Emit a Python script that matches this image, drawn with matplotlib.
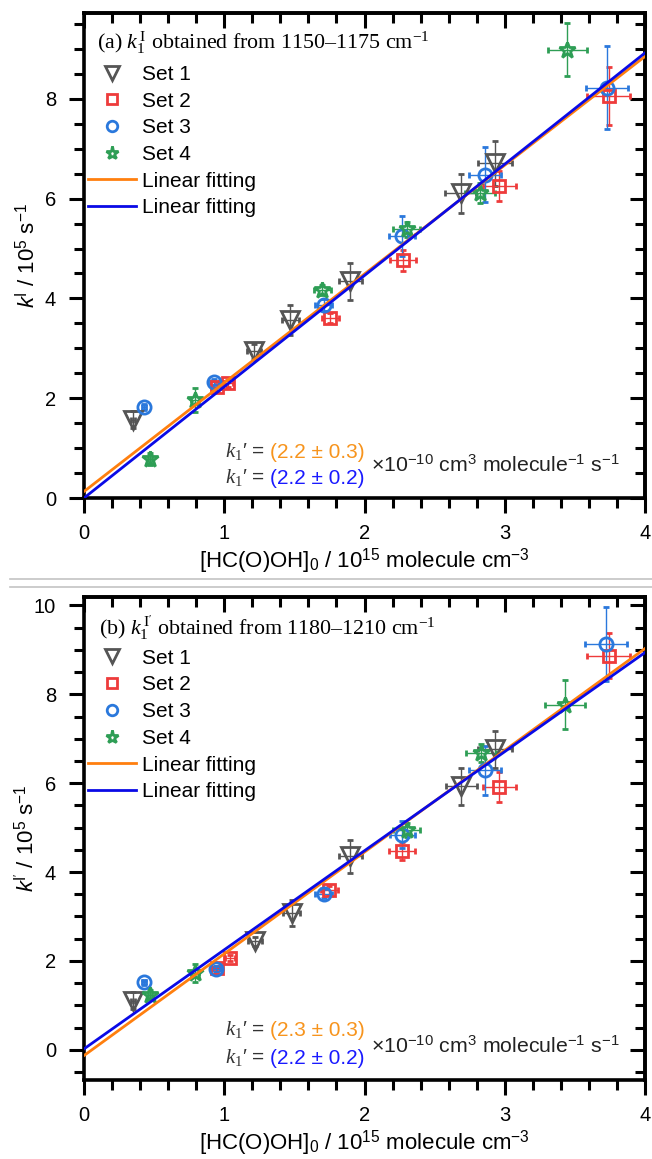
import numpy as np
import matplotlib.pyplot as plt
from matplotlib.ticker import MultipleLocator
from matplotlib.lines import Line2D

plt.rcParams['font.family'] = ['Liberation Sans', 'DejaVu Sans']
plt.rcParams['mathtext.fontset'] = 'custom'
plt.rcParams['mathtext.rm'] = 'Liberation Sans'
plt.rcParams['mathtext.it'] = 'Liberation Serif:italic'
plt.rcParams['mathtext.sf'] = 'Liberation Sans:italic'
plt.rcParams['mathtext.bf'] = 'Liberation Serif'

# ---- panel (a) data ----
a_x1 = [0.35, 1.21, 1.47, 1.90, 2.685, 2.93]
a_y1 = [1.57, 2.94, 3.57, 4.34, 6.11, 6.71]
a_xe1 = [0.015, 0.05, 0.06, 0.08, 0.11, 0.12]
a_ye1 = [0.17, 0.15, 0.30, 0.37, 0.39, 0.45]

a_x2 = [0.95, 1.03, 1.755, 2.274, 2.96, 3.74]
a_y2 = [2.22, 2.30, 3.61, 4.76, 6.26, 8.05]
a_xe2 = [0.03, 0.035, 0.06, 0.093, 0.117, 0.15]
a_ye2 = [0.07, 0.07, 0.10, 0.22, 0.30, 0.58]

a_x3 = [0.43, 0.93, 1.71, 2.267, 2.86, 3.73]
a_y3 = [1.82, 2.32, 3.87, 5.26, 6.48, 8.22]
a_xe3 = [0.015, 0.03, 0.06, 0.09, 0.115, 0.15]
a_ye3 = [0.06, 0.06, 0.12, 0.40, 0.55, 0.83]

a_x4 = [0.47, 0.79, 1.70, 2.30, 2.826, 3.447]
a_y4 = [0.79, 1.97, 4.17, 5.39, 6.12, 8.98]
a_xe4 = [0.016, 0.03, 0.06, 0.095, 0.107, 0.14]
a_ye4 = [0.12, 0.24, 0.10, 0.15, 0.20, 0.53]

a_fit_orange = (2.18, 0.13)   # slope, intercept
a_fit_blue = (2.23, 0.0)

# ---- panel (b) data ----
b_x1 = [0.35, 1.22, 1.48, 1.90, 2.69, 2.93]
b_y1 = [1.10, 2.44, 3.08, 4.35, 5.93, 6.76]
b_xe1 = [0.015, 0.05, 0.06, 0.08, 0.11, 0.12]
b_ye1 = [0.19, 0.10, 0.30, 0.38, 0.41, 0.41]

b_x2 = [0.95, 1.04, 1.75, 2.27, 2.96, 3.74]
b_y2 = [1.83, 2.06, 3.59, 4.47, 5.92, 8.87]
b_xe2 = [0.03, 0.035, 0.06, 0.093, 0.117, 0.15]
b_ye2 = [0.06, 0.07, 0.10, 0.20, 0.34, 0.50]

b_x3 = [0.43, 0.94, 1.71, 2.27, 2.86, 3.72]
b_y3 = [1.52, 1.82, 3.51, 4.84, 6.29, 9.14]
b_xe3 = [0.015, 0.03, 0.06, 0.09, 0.115, 0.15]
b_ye3 = [0.06, 0.06, 0.10, 0.30, 0.55, 0.83]

b_x4 = [0.47, 0.79, 2.30, 2.83, 3.43]
b_y4 = [1.24, 1.73, 4.95, 6.68, 7.77]
b_xe4 = [0.016, 0.03, 0.095, 0.107, 0.14]
b_ye4 = [0.10, 0.20, 0.15, 0.20, 0.56]

b_fit_orange = (2.29, -0.13)
b_fit_blue = (2.23, 0.02)

set_labels = ['Set 1', 'Set 2', 'Set 3', 'Set 4']
markers = ['v', 's', 'o', '*']
colors = ['#555555', '#ee3b3b', '#2a78dc', '#2e9e55']
msizes = [12.5, 9, 9.5, 12]
orange = '#ff7f0e'
blue = '#0a0ae6'

W, H = 652, 1159


def fx(px):
    return px / W


def fy(py):
    return 1 - py / H


def style_axes(ax, ymin, ymax, ymajor):
    ax.set_xlim(0, 4)
    ax.set_ylim(ymin, ymax)
    ax.xaxis.set_major_locator(MultipleLocator(1))
    ax.xaxis.set_minor_locator(MultipleLocator(0.2))
    ax.yaxis.set_major_locator(MultipleLocator(ymajor))
    ax.yaxis.set_minor_locator(MultipleLocator(0.5))
    for s in ax.spines.values():
        s.set_linewidth(2.6)
    ax.tick_params(which='both', direction='out', width=2.2, labelsize=14.5,
                   colors='black')
    ax.tick_params(axis='y', pad=9)
    ax.tick_params(axis='x', pad=8)
    ax.tick_params(which='major', length=11)
    ax.tick_params(which='minor', length=7.5)
    top = ax.secondary_xaxis('top')
    top.xaxis.set_major_locator(MultipleLocator(1))
    top.xaxis.set_minor_locator(MultipleLocator(0.2))
    top.tick_params(which='both', direction='in', width=2.2, labeltop=False)
    top.tick_params(which='major', length=11)
    top.tick_params(which='minor', length=7.5)
    top.spines['top'].set_linewidth(2.6)
    right = ax.secondary_yaxis('right')
    right.yaxis.set_major_locator(MultipleLocator(ymajor))
    right.yaxis.set_minor_locator(MultipleLocator(0.5))
    right.tick_params(which='both', direction='in', width=2.2, labelright=False)
    right.tick_params(which='major', length=11)
    right.tick_params(which='minor', length=7.5)
    right.spines['right'].set_linewidth(2.6)


def draw_panel(ax, sets, fit_o, fit_b):
    for (x, y, xe, ye), m, c, ms in zip(sets, markers, colors, msizes):
        ax.errorbar(x, y, xerr=xe, yerr=ye, fmt=m, ms=ms, mfc='none', mec=c,
                    mew=2.0, ecolor=c, elinewidth=1.0, capsize=2.5,
                    capthick=1.0, zorder=3)
    xs = np.array([0, 4])
    ax.plot(xs, fit_o[0] * xs + fit_o[1], color=orange, lw=2.0, zorder=4)
    ax.plot(xs, fit_b[0] * xs + fit_b[1], color=blue, lw=2.0, zorder=5)
    handles = [Line2D([], [], ls='none', marker=m, ms=ms * 0.8, mfc='none',
                      mec=c, mew=2.0)
               for m, c, ms in zip(markers, colors, msizes)]
    handles += [Line2D([], [], color=orange, lw=2.0),
                Line2D([], [], color=blue, lw=2.0)]
    ax.legend(handles, set_labels + ['Linear fitting', 'Linear fitting'],
              loc='upper left', bbox_to_anchor=(0.007, 0.893), frameon=False,
              borderaxespad=0, borderpad=0, handlelength=2.3,
              handletextpad=0.3, labelspacing=0.37, fontsize=15)


fig = plt.figure(figsize=(W / 100, H / 100), dpi=100)
ax1 = fig.add_axes([fx(84), fy(498), (645 - 84) / W, 485 / H])
ax2 = fig.add_axes([fx(84), fy(1080), (645 - 84) / W, 483 / H])

style_axes(ax1, 0, 9.72, 2)
style_axes(ax2, -0.68, 10.19, 2)

draw_panel(ax1, [(a_x1, a_y1, a_xe1, a_ye1), (a_x2, a_y2, a_xe2, a_ye2),
                 (a_x3, a_y3, a_xe3, a_ye3), (a_x4, a_y4, a_xe4, a_ye4)],
           a_fit_orange, a_fit_blue)
draw_panel(ax2, [(b_x1, b_y1, b_xe1, b_ye1), (b_x2, b_y2, b_xe2, b_ye2),
                 (b_x3, b_y3, b_xe3, b_ye3), (b_x4, b_y4, b_xe4, b_ye4)],
           b_fit_orange, b_fit_blue)

xlab = r'[HC(O)OH]$_0$ / 10$^{15}$ molecule cm$^{-3}$'
for ax in (ax1, ax2):
    ax.set_xlabel(xlab, fontsize=16)
    ax.xaxis.set_label_coords(0.5, -0.1)
ax1.set_ylabel(r'$\mathsf{k}^{\mathrm{I}}$ / 10$^5$ s$^{-1}$', fontsize=16)
ax2.set_ylabel(r"$\mathsf{k}^{\mathrm{I}'}$ / 10$^5$ s$^{-1}$", fontsize=16)
for ax in (ax1, ax2):
    ax.yaxis.set_label_coords(-0.08, 0.5)

serif = ['Liberation Serif', 'DejaVu Serif']
fig.text(fx(97), fy(43),
         r'(a) $k_{\mathbf{1}}^{\,\mathbf{I}}$ obtained from 1150–1175 cm$^{\mathbf{-1}}$',
         family=serif, fontsize=15.8, va='center', ha='left')
fig.text(fx(99), fy(628),
         r"(b) $k_{\mathbf{1}}^{\,\mathbf{I'}}$ obtained from 1180–1210 cm$^{\mathbf{-1}}$",
         family=serif, fontsize=15.8, va='center', ha='left')

units = r'×10$^{-10}$ cm$^3$ molecule$^{-1}$ s$^{-1}$'
k_txt = r"$k_{\mathbf{1}}$′ ="
for y1, y2, ym, vo, vb in [(452, 478, 465, '(2.2 ± 0.3)', '(2.2 ± 0.2)'),
                           (1030, 1058, 1046, '(2.3 ± 0.3)', '(2.2 ± 0.2)')]:
    fig.text(fx(265), fy(y1), k_txt, fontsize=15, color='#333333',
             va='center', ha='right')
    fig.text(fx(270), fy(y1), vo, fontsize=15, color='#f7941d', va='center')
    fig.text(fx(265), fy(y2), k_txt, fontsize=15, color='#333333',
             va='center', ha='right')
    fig.text(fx(270), fy(y2), vb, fontsize=15, color='#1a1aff', va='center')
    fig.text(fx(371), fy(ym), units, fontsize=15.3, color='#222222',
             va='center')

for py in (579, 587):
    fig.add_artist(Line2D([0.015, 1], [fy(py), fy(py)],
                          transform=fig.transFigure, color='#c4c4c4', lw=1.2))

fig.savefig('out.png', dpi=100)
